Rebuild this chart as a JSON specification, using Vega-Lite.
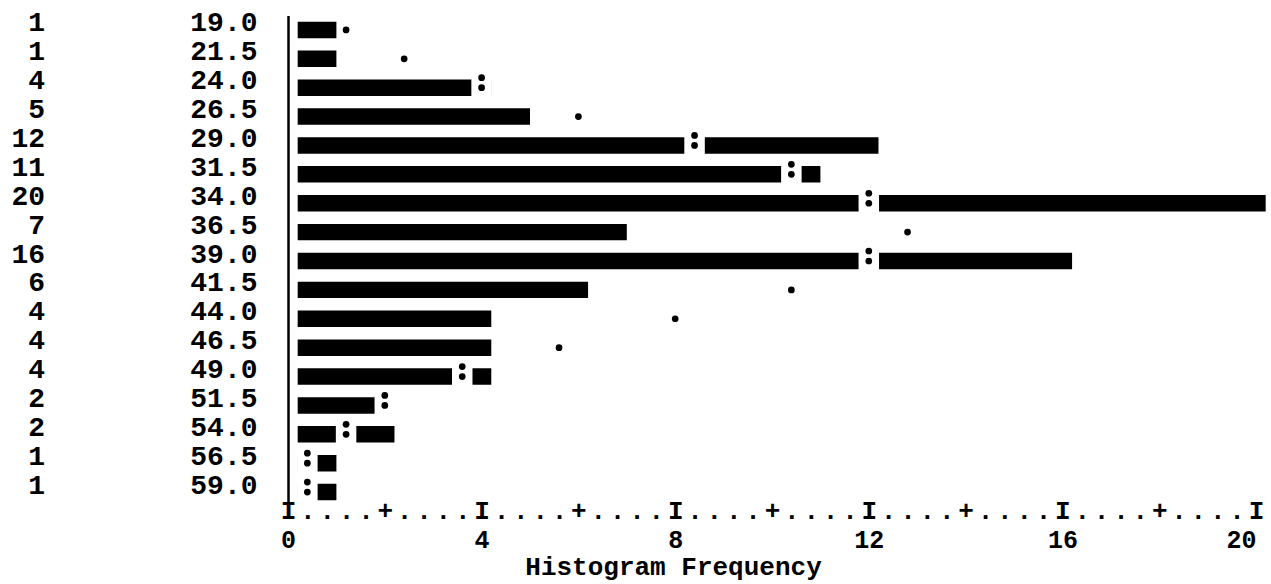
{
  "$schema": "https://vega.github.io/schema/vega-lite/v6.json",
  "autosize": {"type": "none"},
  "padding": {"left": 288, "top": 15.5, "right": 15, "bottom": 77.5},
  "width": 968,
  "height": 491,
  "background": "white",
  "config": {"view": {"stroke": null}, "font": "Liberation Mono", "axis": {"grid": false}},
  "data": {
    "values": [
      {"mid": "19.0", "count": 1, "barEnd": 1.0, "exp": 1.2, "sym": "."},
      {"mid": "21.5", "count": 1, "barEnd": 1.0, "exp": 2.4, "sym": "."},
      {"mid": "24.0", "count": 4, "barEnd": 4.2, "exp": 4.0, "sym": ":"},
      {"mid": "26.5", "count": 5, "barEnd": 5.0, "exp": 6.0, "sym": "."},
      {"mid": "29.0", "count": 12, "barEnd": 12.2, "exp": 8.4, "sym": ":"},
      {"mid": "31.5", "count": 11, "barEnd": 11.0, "exp": 10.4, "sym": ":"},
      {"mid": "34.0", "count": 20, "barEnd": 20.2, "exp": 12.0, "sym": ":"},
      {"mid": "36.5", "count": 7, "barEnd": 7.0, "exp": 12.8, "sym": "."},
      {"mid": "39.0", "count": 16, "barEnd": 16.2, "exp": 12.0, "sym": ":"},
      {"mid": "41.5", "count": 6, "barEnd": 6.2, "exp": 10.4, "sym": "."},
      {"mid": "44.0", "count": 4, "barEnd": 4.2, "exp": 8.0, "sym": "."},
      {"mid": "46.5", "count": 4, "barEnd": 4.2, "exp": 5.6, "sym": "."},
      {"mid": "49.0", "count": 4, "barEnd": 4.2, "exp": 3.6, "sym": ":"},
      {"mid": "51.5", "count": 2, "barEnd": 2.2, "exp": 2.0, "sym": ":"},
      {"mid": "54.0", "count": 2, "barEnd": 2.2, "exp": 1.2, "sym": ":"},
      {"mid": "56.5", "count": 1, "barEnd": 1.0, "exp": 0.4, "sym": ":"},
      {"mid": "59.0", "count": 1, "barEnd": 1.0, "exp": 0.4, "sym": ":"}
    ]
  },
  "encoding": {
    "y": {
      "field": "mid",
      "type": "ordinal",
      "sort": null,
      "scale": {"paddingInner": 0.43, "paddingOuter": 0.215},
      "axis": {
        "title": null,
        "ticks": false,
        "domain": true,
        "domainColor": "black",
        "domainWidth": 2.5,
        "labelFont": "Liberation Mono",
        "labelFontWeight": "bold",
        "labelFontSize": 28,
        "labelColor": "black",
        "labelPadding": 31,
        "labelOffset": -6.5,
        "labelBaseline": "middle"
      }
    }
  },
  "layer": [
    {
      "mark": {"type": "bar", "color": "black"},
      "encoding": {
        "x": {
          "field": "barEnd",
          "type": "quantitative",
          "scale": {"domain": [0, 20], "nice": false, "zero": true},
          "axis": {
            "orient": "bottom",
            "title": null,
            "values": [0,0.4,0.8,1.2,1.6,2,2.4,2.8,3.2,3.6,4,4.4,4.8,5.2,5.6,6,6.4,6.8,7.2,7.6,8,8.4,8.8,9.2,9.6,10,10.4,10.8,11.2,11.6,12,12.4,12.8,13.2,13.6,14,14.4,14.8,15.2,15.6,16,16.4,16.8,17.2,17.6,18,18.4,18.8,19.2,19.6,20],
            "labelExpr": "datum.value % 4 === 0 ? 'I' : (datum.value % 2 === 0 ? '+' : '.')",
            "ticks": false,
            "tickSize": 0,
            "domain": false,
            "grid": false,
            "labelFont": "Liberation Mono",
            "labelFontWeight": "bold",
            "labelFontSize": 26,
            "labelColor": "black",
            "labelPadding": 4,
            "labelBaseline": "middle",
            "labelAlign": "center",
            "labelOverlap": false,
            "labelFlush": false,
            "labelBound": false
          }
        },
        "x2": {"datum": 0.2}
      }
    },
    {
      "transform": [{"filter": "datum.sym === ':'"}],
      "mark": {"type": "tick", "color": "white", "thickness": 20.5, "size": 24, "orient": "vertical", "opacity": 1},
      "encoding": {"x": {"field": "exp", "type": "quantitative", "axis": null}}
    },
    {
      "mark": {"type": "point", "filled": true, "color": "black", "size": 45, "opacity": 1},
      "encoding": {
        "x": {
          "field": "exp",
          "type": "quantitative",
          "axis": {
            "orient": "bottom",
            "title": "Histogram Frequency",
            "values": [0, 4, 8, 12, 16, 20],
            "format": "d",
            "ticks": false,
            "tickSize": 0,
            "domain": false,
            "grid": false,
            "labelFont": "Liberation Mono",
            "labelFontWeight": "bold",
            "labelFontSize": 25,
            "labelColor": "black",
            "labelPadding": 32.5,
            "labelBaseline": "middle",
            "labelAlign": {"condition": {"test": "datum.value === 20", "value": "right"}, "value": "center"},
            "labelOverlap": false,
            "labelFlush": false,
            "labelBound": false,
            "titleFont": "Liberation Mono",
            "titleFontWeight": "bold",
            "titleFontSize": 26,
            "titleColor": "black",
            "titleX": 385,
            "titleY": 68,
            "titleAlign": "center",
            "titleBaseline": "alphabetic"
          }
        }
      }
    },
    {
      "transform": [{"filter": "datum.sym === ':'"}],
      "mark": {"type": "point", "filled": true, "color": "black", "size": 45, "opacity": 1, "yOffset": -10},
      "encoding": {"x": {"field": "exp", "type": "quantitative", "axis": null}}
    },
    {
      "mark": {"type": "text", "align": "right", "baseline": "middle", "dx": -243, "dy": -6.5, "font": "Liberation Mono", "fontWeight": "bold", "fontSize": 28, "color": "black"},
      "encoding": {
        "x": {"datum": 0, "axis": null},
        "text": {"field": "count"}
      }
    }
  ],
  "resolve": {"axis": {"x": "independent"}}
}
